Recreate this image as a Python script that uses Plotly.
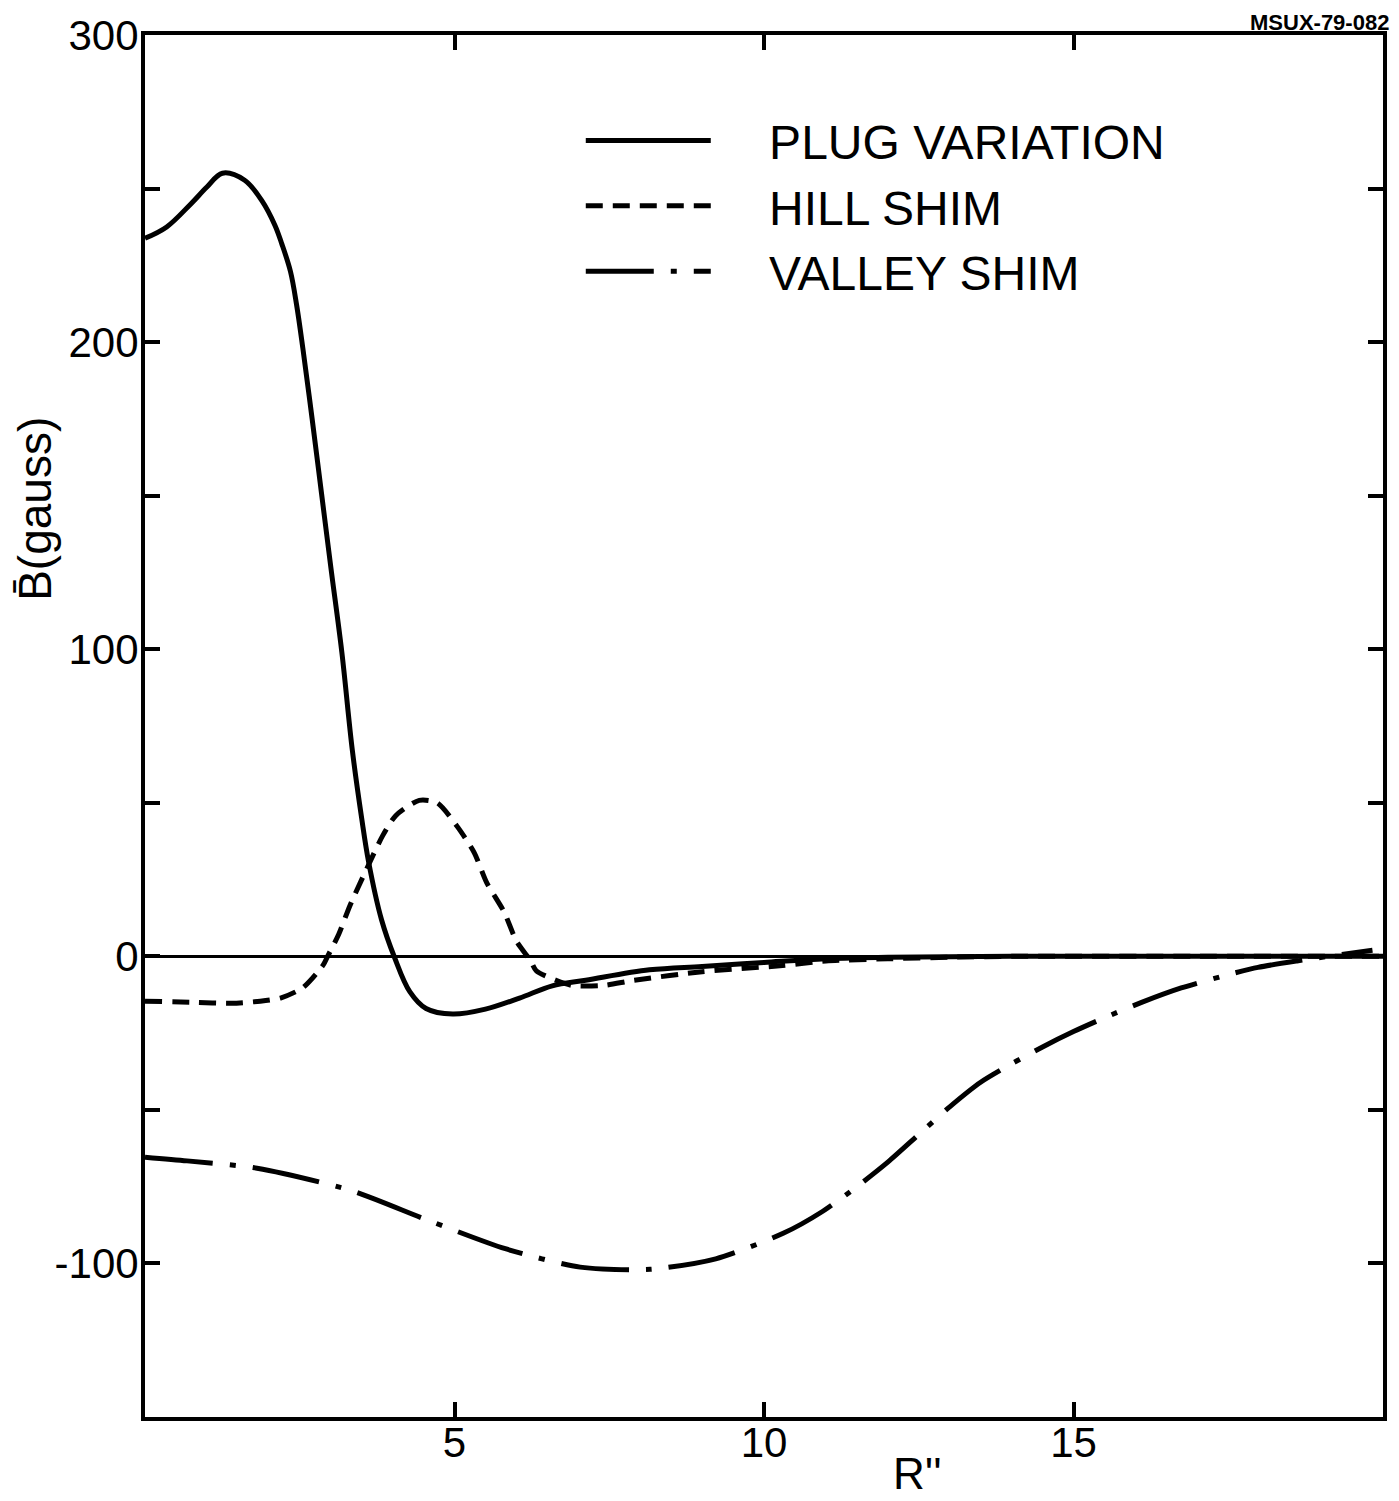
import plotly.graph_objects as go

# R'' (inches) and B-bar (gauss)
r_plug = [0.0, 0.35, 0.74, 1.0, 1.25, 1.61, 1.89, 2.1, 2.21, 2.35, 2.45, 2.55, 2.7, 2.85, 3.0,
          3.18, 3.35, 3.5, 3.61, 3.82, 4.03, 4.28, 4.54, 4.97, 5.5, 6.05, 6.58, 7.12, 8.15,
          9.0, 10.0, 11.0, 12.0, 14.0, 17.0, 20.0]
b_plug = [233.8, 237.5, 245.0, 250.5, 255.0, 252.7, 246.0, 238.0, 232.0, 223.0, 212.0, 198.0,
          175.0, 151.0, 127.0, 99.0, 67.0, 45.0, 31.0, 12.0, -0.3, -11.6, -17.0, -18.8, -17.2,
          -13.6, -9.6, -7.8, -4.4, -3.3, -2.0, -0.8, -0.3, 0.0, 0.0, 0.0]

r_hill = [0.0, 0.8, 1.4, 1.86, 2.2, 2.55, 2.88, 2.95, 3.13, 3.31, 3.57, 3.84, 4.05, 4.43, 4.72,
          5.04, 5.32, 5.52, 5.8, 6.0, 6.23, 6.32, 6.64, 6.9, 7.4, 7.9, 9.0, 10.3, 11.0, 12.0,
          13.0, 14.0, 17.0, 20.0]
b_hill = [-14.6, -15.0, -15.3, -14.6, -13.5, -10.2, -2.8, 0.0, 7.2, 16.5, 28.0, 39.3, 45.8,
          50.8, 50.0, 42.4, 33.7, 24.0, 14.5, 5.0, -1.5, -4.7, -7.8, -9.5, -9.5, -7.8, -5.0,
          -3.0, -1.5, -0.8, -0.3, 0.0, 0.0, 0.0]

r_valley = [0.0, 0.68, 1.81, 3.32, 4.54, 5.82, 7.03, 8.16, 9.22, 10.31, 10.95, 11.5, 12.0,
            12.5, 13.0, 13.5, 14.0, 14.5, 15.0, 15.5, 16.1, 16.74, 17.4, 17.98, 18.61, 19.83]
b_valley = [-65.4, -66.6, -69.0, -76.2, -85.7, -95.2, -101.2, -101.9, -98.5, -90.2, -83.0,
            -75.0, -67.0, -58.0, -49.0, -41.0, -35.0, -29.5, -24.5, -20.0, -15.0, -10.3, -6.5,
            -3.6, -1.5, 2.0]

y_tickvals = [-100, -50, 0, 50, 100, 150, 200, 250, 300]
y_ticktext = ["-100", "", "0", "", "100", "", "200", "", "300"]
x_tickvals = [5, 10, 15]
x_ticktext = ["5", "10", "15"]

FONT = "Liberation Sans"
PAD = "\u00a0\u00a0\u00a0\u00a0"

fig = go.Figure()
fig.add_trace(go.Scatter(x=r_plug, y=b_plug, mode="lines", name=PAD + "PLUG VARIATION",
                         line=dict(color="black", width=5, shape="spline", smoothing=1.0)))
fig.add_trace(go.Scatter(x=r_hill, y=b_hill, mode="lines", name=PAD + "HILL SHIM",
                         line=dict(color="black", width=5, dash="17px,10px",
                                   shape="spline", smoothing=0.7)))
fig.add_trace(go.Scatter(x=r_valley, y=b_valley, mode="lines", name=PAD + "VALLEY SHIM",
                         line=dict(color="black", width=5, dash="68px,17px,6px,17px",
                                   shape="spline", smoothing=0.7)))

fig.update_layout(
    width=1399, height=1501,
    margin=dict(l=145, r=12, t=33, b=84),
    paper_bgcolor="white", plot_bgcolor="white",
    font=dict(family=FONT, color="black"),
    showlegend=True,
    legend=dict(x=0.352, y=0.951, xanchor="left", yanchor="top",
                font=dict(size=48, family=FONT, color="black"),
                itemwidth=125, bgcolor="rgba(0,0,0,0)", borderwidth=0,
                tracegroupgap=0),
    xaxis=dict(range=[0, 20], tickvals=x_tickvals, ticktext=x_ticktext,
               ticks="inside", ticklen=15, tickwidth=4, tickcolor="black",
               showline=True, linewidth=4, linecolor="black", mirror="ticks",
               showgrid=False, zeroline=False, ticklabelstandoff=-14,
               tickfont=dict(size=42, family=FONT, color="black")),
    yaxis=dict(range=[-150, 300], tickvals=y_tickvals, ticktext=y_ticktext,
               ticks="inside", ticklen=15, tickwidth=4, tickcolor="black",
               showline=True, linewidth=4, linecolor="black", mirror="ticks",
               showgrid=False, zeroline=True, zerolinewidth=3, zerolinecolor="black",
               ticklabelstandoff=-6,
               tickfont=dict(size=42, family=FONT, color="black")),
    annotations=[
        dict(text="R''", xref="paper", yref="paper", x=0.624, y=-0.022,
             xanchor="center", yanchor="top", showarrow=False,
             font=dict(size=44, family=FONT, color="black")),
        dict(text="B\u0304(gauss)", xref="paper", yref="paper", x=-0.089, y=0.657,
             xanchor="center", yanchor="middle", textangle=-90, showarrow=False,
             font=dict(size=46, family=FONT, color="black")),
        dict(text="<b>MSUX-79-082</b>", xref="paper", yref="paper", x=1.0065, y=1.0088,
             xanchor="right", yanchor="middle", showarrow=False,
             font=dict(size=22, family=FONT, color="black")),
    ],
)

fig.write_html("out.html")
